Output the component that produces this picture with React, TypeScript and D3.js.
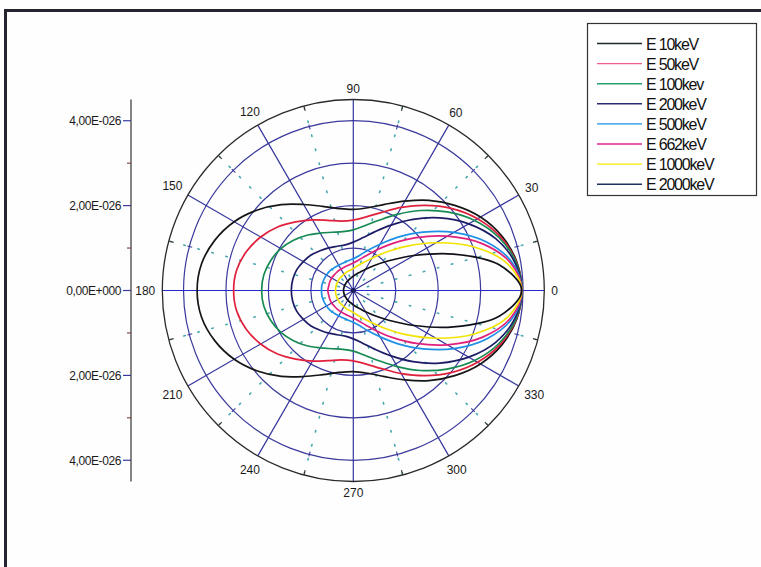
import React from "react";
import * as d3 from "d3";

// Angles (degrees, counter-clockwise from 0)
const angles = [0, 10, 20, 30, 40, 50, 60, 70, 80, 90, 100, 110, 120, 130, 140, 150, 160, 170, 180,
  190, 200, 210, 220, 230, 240, 250, 260, 270, 280, 290, 300, 310, 320, 330, 340, 350];

// Differential cross section values, in units of 1E-26
const e10 = [3.97, 3.91, 3.73, 3.46, 3.12, 2.77, 2.43, 2.16, 1.98, 1.91, 1.96, 2.11, 2.34, 2.64, 2.95, 3.24, 3.47, 3.63, 3.68,
  3.63, 3.47, 3.24, 2.95, 2.64, 2.34, 2.11, 1.96, 1.91, 1.98, 2.16, 2.43, 2.77, 3.12, 3.46, 3.73, 3.91];
const e50 = [3.97, 3.90, 3.69, 3.38, 3.01, 2.62, 2.26, 1.96, 1.76, 1.66, 1.66, 1.76, 1.92, 2.11, 2.33, 2.52, 2.68, 2.79, 2.82,
  2.79, 2.68, 2.52, 2.33, 2.11, 1.92, 1.76, 1.66, 1.66, 1.76, 1.96, 2.26, 2.62, 3.01, 3.38, 3.69, 3.90];
const e100 = [3.97, 3.89, 3.65, 3.30, 2.88, 2.46, 2.07, 1.76, 1.55, 1.43, 1.41, 1.46, 1.56, 1.70, 1.84, 1.97, 2.07, 2.14, 2.16,
  2.14, 2.07, 1.97, 1.84, 1.70, 1.56, 1.46, 1.41, 1.43, 1.55, 1.76, 2.07, 2.46, 2.88, 3.30, 3.65, 3.89];
const e200 = [3.97, 3.86, 3.57, 3.14, 2.66, 2.19, 1.78, 1.47, 1.26, 1.14, 1.09, 1.11, 1.16, 1.22, 1.30, 1.36, 1.42, 1.45, 1.46,
  1.45, 1.42, 1.36, 1.30, 1.22, 1.16, 1.11, 1.09, 1.14, 1.26, 1.47, 1.78, 2.19, 2.66, 3.14, 3.57, 3.86];
const e500 = [3.97, 3.80, 3.34, 2.74, 2.14, 1.64, 1.26, 1.01, 0.84, 0.75, 0.71, 0.69, 0.69, 0.70, 0.72, 0.73, 0.74, 0.75, 0.75,
  0.75, 0.74, 0.73, 0.72, 0.70, 0.69, 0.69, 0.71, 0.75, 0.84, 1.01, 1.26, 1.64, 2.14, 2.74, 3.34, 3.80];
const e662 = [3.97, 3.76, 3.23, 2.56, 1.94, 1.45, 1.10, 0.87, 0.73, 0.65, 0.61, 0.59, 0.58, 0.58, 0.58, 0.59, 0.59, 0.59, 0.60,
  0.59, 0.59, 0.59, 0.58, 0.58, 0.58, 0.59, 0.61, 0.65, 0.73, 0.87, 1.10, 1.45, 1.94, 2.56, 3.23, 3.76];
const e1000 = [3.97, 3.68, 3.01, 2.25, 1.62, 1.17, 0.88, 0.70, 0.59, 0.52, 0.48, 0.46, 0.44, 0.43, 0.43, 0.42, 0.42, 0.42, 0.42,
  0.42, 0.42, 0.42, 0.43, 0.43, 0.44, 0.46, 0.48, 0.52, 0.59, 0.70, 0.88, 1.17, 1.62, 2.25, 3.01, 3.68];
const e2000 = [3.97, 3.49, 2.51, 1.65, 1.09, 0.77, 0.58, 0.46, 0.39, 0.34, 0.30, 0.28, 0.26, 0.25, 0.24, 0.24, 0.23, 0.23, 0.23,
  0.23, 0.23, 0.24, 0.24, 0.25, 0.26, 0.28, 0.30, 0.34, 0.39, 0.46, 0.58, 0.77, 1.09, 1.65, 2.51, 3.49];

const seriesNames = ["E 10keV", "E 50keV", "E 100kev", "E 200keV", "E 500keV", "E 662keV", "E 1000keV", "E 2000keV"];
const seriesValues = [e10, e50, e100, e200, e500, e662, e1000, e2000];
const seriesColors = ["#161616", "#e0203c", "#168a52", "#1c1c66", "#1e90e6", "#e0207a", "#f2e400", "#101018"];
const legendColors = ["#1a2a2a", "#f0608a", "#28a070", "#2a2a70", "#2090e8", "#e02890", "#f4e800", "#203060"];

const rings = [1, 2, 3, 4];
const outerValue = 4.5;
const spokeAngles = [0, 30, 60, 90, 120, 150, 180, 210, 240, 270, 300, 330];
const minorAngles = [15, 45, 75, 105, 135, 165, 195, 225, 255, 285, 315, 345];
const yTicks = [4, 2, 0, -2, -4];
const yTickLabels = ["4,00E-026", "2,00E-026", "0,00E+000", "2,00E-026", "4,00E-026"];
const yMinor = [3, 1, -1, -3];

export default function App() {
  const W = 761, H = 567;
  const cx = 353.3, cy = 290.5, R = 191;
  const r = d3.scaleLinear().domain([0, outerValue]).range([0, R]);
  const y = d3.scaleLinear().domain([-outerValue, outerValue]).range([cy + R, cy - R]);
  const axisX = 131;
  const rad = (deg: number) => (deg * Math.PI) / 180;
  const pt = (deg: number, rr: number) => [cx + rr * Math.cos(rad(deg)), cy - rr * Math.sin(rad(deg))];

  const line = d3
    .lineRadial<number>()
    .angle((_, i) => Math.PI / 2 - rad(angles[i]))
    .radius((v) => r(v))
    .curve(d3.curveCatmullRomClosed.alpha(0.5));

  const font = "'Liberation Sans', Arial, sans-serif";

  return (
    <svg width={W} height={H} style={{ position: "absolute", left: 0, top: 0, background: "#fff" }} fontFamily={font}>
      <rect x={0} y={0} width={W} height={H} fill="#fefefe" />
      {/* scan frame */}
      <line x1={4} y1={10.5} x2={W} y2={10.5} stroke="#252530" strokeWidth={3} />
      <line x1={5.5} y1={9} x2={5.5} y2={H} stroke="#252530" strokeWidth={3} />

      {/* minor dotted radials */}
      {minorAngles.map((a) => {
        const [x2, y2] = pt(a, r(outerValue) - 2);
        return <line key={"m" + a} x1={cx} y1={cy} x2={x2} y2={y2} stroke="#48a8b0" strokeWidth={1.6}
          strokeDasharray="1.5 13" strokeLinecap="round" />;
      })}
      {/* rings */}
      {rings.map((v) => (
        <circle key={"r" + v} cx={cx} cy={cy} r={r(v)} fill="none" stroke="#3a3a9c" strokeWidth={1.2} />
      ))}
      {/* spokes */}
      {spokeAngles.map((a) => {
        const [x2, y2] = pt(a, r(outerValue));
        const horiz = a === 0 || a === 180;
        return <line key={"s" + a} x1={cx} y1={cy} x2={x2} y2={y2} stroke={horiz ? "#2828d0" : "#34349c"} strokeWidth={1.2} />;
      })}
      {/* outer circle */}
      <circle cx={cx} cy={cy} r={r(outerValue)} fill="none" stroke="#2a2a2a" strokeWidth={1.3} />
      {/* ticks on outer circle and ring 4 */}
      {minorAngles.map((a) => {
        const [x1, y1] = pt(a, r(outerValue));
        const [x2, y2] = pt(a, r(outerValue) - 5);
        const [x3, y3] = pt(a, r(4) + 2);
        const [x4, y4] = pt(a, r(4) - 3);
        return (
          <g key={"t" + a}>
            <line x1={x1} y1={y1} x2={x2} y2={y2} stroke="#333" strokeWidth={1.1} />
            <line x1={x3} y1={y3} x2={x4} y2={y4} stroke="#3a3a9c" strokeWidth={1.1} />
          </g>
        );
      })}
      {/* angle labels */}
      {spokeAngles.map((a) => {
        const label = String(a);
        const w = label.length * 6.7;
        const h = 8.6;
        const off = r(outerValue) + 7 + (w / 2) * Math.abs(Math.cos(rad(a))) + (h / 2) * Math.abs(Math.sin(rad(a)));
        const [x, yy] = pt(a, off);
        return (
          <text key={"l" + a} x={x} y={yy + 4.3} textAnchor="middle" fontSize={12} fill="#1a1a1a">{label}</text>
        );
      })}

      {/* series curves */}
      {seriesValues.map((vals, i) => (
        <path key={"c" + i} d={line(vals) || ""} transform={`translate(${cx},${cy})`} fill="none"
          stroke={seriesColors[i]} strokeWidth={1.7} strokeLinejoin="round" />
      ))}
      <circle cx={cx} cy={cy} r={2.5} fill="#1c1c5a" />

      {/* left y axis */}
      <line x1={axisX} y1={y(outerValue)} x2={axisX} y2={y(-outerValue)} stroke="#333" strokeWidth={1.2} />
      {yTicks.map((t, i) => (
        <g key={"y" + i}>
          <line x1={axisX - 8} y1={y(t)} x2={axisX} y2={y(t)} stroke="#3a3a9c" strokeWidth={1.2} />
          <text x={axisX - 10} y={y(t) + 4.3} textAnchor="end" fontSize={12} letterSpacing={-0.4} fill="#1a1a1a">
            {yTickLabels[i]}
          </text>
        </g>
      ))}
      {yMinor.map((t) => (
        <line key={"ym" + t} x1={axisX - 4} y1={y(t)} x2={axisX} y2={y(t)} stroke="#7a3a3a" strokeWidth={1.1} />
      ))}

      {/* legend */}
      <rect x={587.5} y={23.5} width={169} height={172} fill="#fff" stroke="#333" strokeWidth={1.2} />
      {seriesNames.map((name, i) => {
        const yy = 43.5 + i * 20.1;
        return (
          <g key={"lg" + i}>
            <line x1={597} y1={yy} x2={642} y2={yy} stroke={legendColors[i]} strokeWidth={1.4} />
            <text x={646} y={yy + 6} fontSize={16} letterSpacing={-1.2} fill="#111">{name}</text>
          </g>
        );
      })}
    </svg>
  );
}
